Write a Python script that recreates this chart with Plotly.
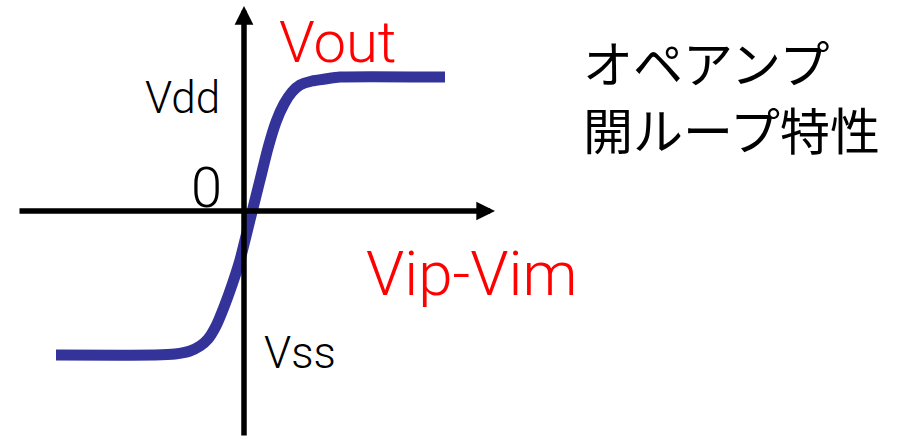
import plotly.graph_objects as go

# Open-loop transfer curve of the op amp (pixel units, y grows downward)
curve_x = [56, 155, 175, 190, 200, 208, 216, 224, 232, 240, 250, 260, 268, 276, 284, 292, 300, 312, 325, 340, 445]
curve_y = [355, 355, 354, 351, 346, 339, 326, 307, 285, 260, 220, 180, 148, 122, 104, 92, 85, 81, 79, 77, 77]

# Axis origin and extent of the arrows
origin_x = 244
origin_y = 211
x_axis_start, x_axis_end = 18, 495
y_axis_start, y_axis_end = 437, 6

# Labels: text, x, y, size, colour
labels = [
    ("Vout", 338, 42, 58, "#ff0000"),
    ("Vdd", 182, 98, 44, "#000000"),
    ("0", 206, 188, 56, "#000000"),
    ("Vip-Vim", 472, 273, 62, "#ff0000"),
    ("Vss", 300, 353, 44, "#000000"),
]
title_lines = ["オペアンプ", "開ループ特性"]
title_y = [61, 128]

fig = go.Figure()

fig.add_trace(go.Scatter(x=curve_x, y=curve_y, mode="lines",
                         line=dict(color="#333399", width=11, shape="spline", smoothing=0.5),
                         hoverinfo="skip"))

# axes with arrow heads
fig.add_annotation(x=x_axis_end, y=origin_y, ax=x_axis_start, ay=origin_y,
                   xref="x", yref="y", axref="x", ayref="y", text="",
                   showarrow=True, arrowhead=2, arrowwidth=5.5, arrowsize=0.68,
                   arrowcolor="#000000")
fig.add_annotation(x=origin_x, y=y_axis_end, ax=origin_x, ay=y_axis_start,
                   xref="x", yref="y", axref="x", ayref="y", text="",
                   showarrow=True, arrowhead=2, arrowwidth=5.5, arrowsize=0.68,
                   arrowcolor="#000000")

for txt, lx, ly, size, col in labels:
    fig.add_annotation(x=lx, y=ly, xref="x", yref="y", text=txt, showarrow=False,
                       xanchor="center", yanchor="middle",
                       font=dict(family="Roboto, Noto Sans, sans-serif", size=size,
                                 color=col, weight=300))

for line, ly in zip(title_lines, title_y):
    fig.add_annotation(x=581, y=ly, xref="x", yref="y", text=line, showarrow=False,
                       xanchor="left", yanchor="middle", align="left",
                       font=dict(family="Noto Sans CJK JP", size=50, color="#000000"))

fig.update_layout(width=906, height=440, margin=dict(l=0, r=0, t=0, b=0),
                  plot_bgcolor="white", paper_bgcolor="white", showlegend=False,
                  xaxis=dict(range=[0, 906], visible=False, fixedrange=True),
                  yaxis=dict(range=[440, 0], visible=False, fixedrange=True))

# page body has a default margin, drop it so the figure sits at the window corner
fig.write_html("out.html", config={"displayModeBar": False},
               post_script="document.body.style.margin='0';")
